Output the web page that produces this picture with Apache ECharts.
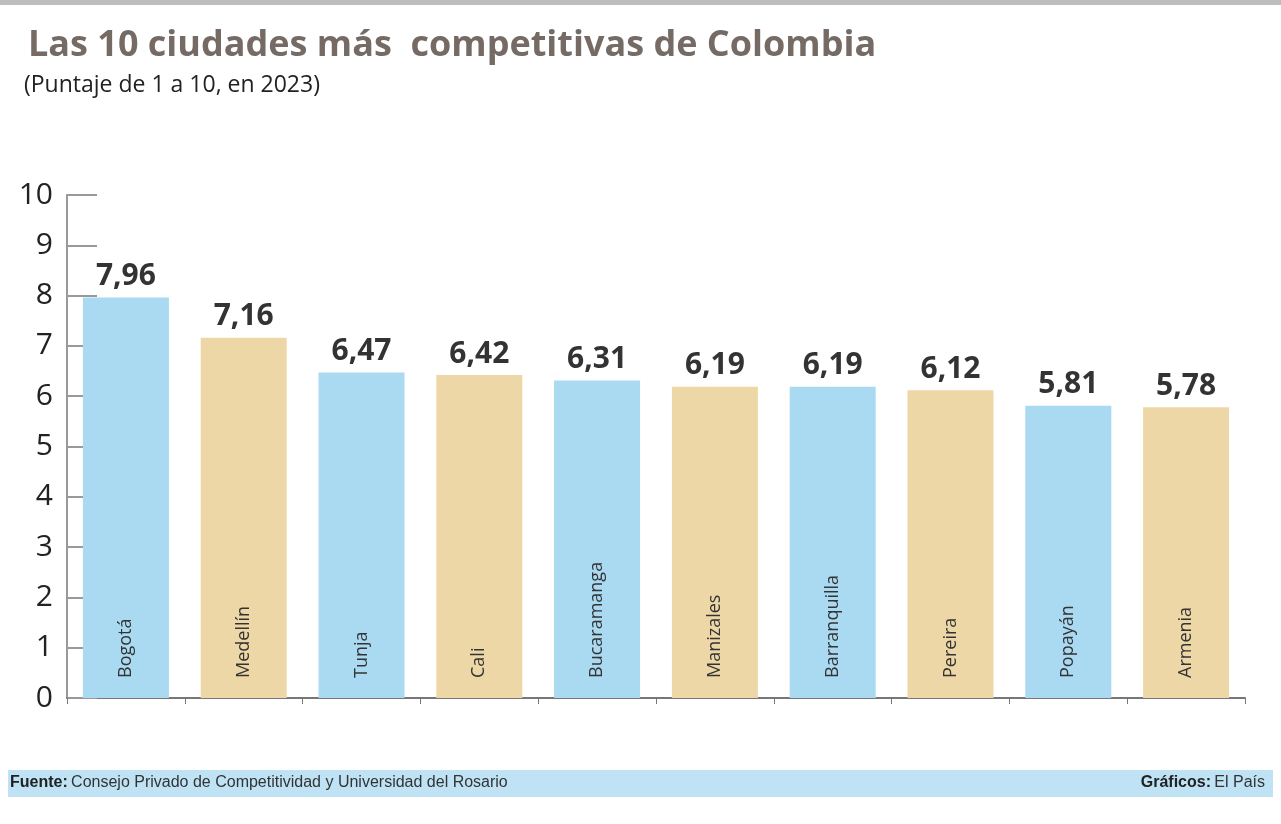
<!DOCTYPE html>
<html><head><meta charset="utf-8">
<script src="https://cdn.jsdelivr.net/npm/echarts@6/dist/echarts.min.js"></script>
<style>body{margin:0;background:#fff}#c{width:1281px;height:824px}</style>
</head><body><div id="c"></div>
<script>
const cities=['Bogotá','Medellín','Tunja','Cali','Bucaramanga','Manizales','Barranquilla','Pereira','Popayán','Armenia'];
const scores=[7.96,7.16,6.47,6.42,6.31,6.19,6.19,6.12,5.81,5.78];
const yTicks=[0,1,2,3,4,5,6,7,8,9,10];
const blue='#a9daf2',tan='#eed7a6';
const chart=echarts.init(document.getElementById('c'));
chart.setOption({
  animation:false,
  graphic:[
    {type:'rect',shape:{x:0,y:0,width:1281,height:5},style:{fill:'#bdbdbd'}},
    {type:'text',left:28,top:28,style:{text:'Las 10 ciudades más  competitivas de Colombia',font:'bold 36px "Open Sans", sans-serif',fill:'#756a64'}},
    {type:'text',left:24,top:74,style:{text:'(Puntaje de 1 a 10, en 2023)',font:'23px "Open Sans", sans-serif',fill:'#222'}},
    {type:'rect',shape:{x:8,y:770,width:1265,height:27},style:{fill:'#bfe3f5'}},
    {type:'text',left:10,top:775,style:{rich:{b:{font:'bold 16px "Liberation Sans Narrow", sans-serif',fill:'#222'},n:{font:'16px "Liberation Sans Narrow", sans-serif',fill:'#333'}},text:'{b|Fuente:} {n|Consejo Privado de Competitividad y Universidad del Rosario}'}},
    {type:'text',right:16,top:775,style:{rich:{b:{font:'bold 16px "Liberation Sans Narrow", sans-serif',fill:'#222'},n:{font:'16px "Liberation Sans Narrow", sans-serif',fill:'#333'}},text:'{b|Gráficos:} {n|El País}'}}
  ],
  grid:{left:67,right:36,top:195,bottom:126},
  xAxis:{type:'category',data:cities,axisLine:{lineStyle:{color:'#777',width:2}},
    axisTick:{show:true,length:6,lineStyle:{color:'#777'}},axisLabel:{show:false}},
  yAxis:{type:'value',min:0,max:10,interval:1,splitLine:{show:false},
    axisLine:{show:true,lineStyle:{color:'#999',width:2}},
    axisTick:{show:true,inside:true,length:30,lineStyle:{color:'#999',width:2}},
    axisLabel:{color:'#222',fontSize:30,fontFamily:'"Open Sans", sans-serif',margin:14,
      formatter:v=>yTicks.includes(v)?String(v):''}},
  series:[{type:'bar',barWidth:86,
    data:scores.map((v,i)=>({value:v,itemStyle:{color:i%2?tan:blue},
      label:{show:true,position:'insideBottom',rotate:90,align:'left',verticalAlign:'middle',offset:[14,0],distance:6,
        formatter:cities[i],fontSize:18,color:'#333',fontFamily:'"Open Sans", sans-serif'}})),
  },{type:'bar',barGap:'-100%',barWidth:86,silent:true,itemStyle:{color:'transparent'},
    data:scores,label:{show:true,position:'top',distance:6,fontSize:30,fontWeight:'bold',color:'#333',
      fontFamily:'"Open Sans", sans-serif',formatter:p=>p.value.toFixed(2).replace('.',',')}}]
});
</script></body></html>
